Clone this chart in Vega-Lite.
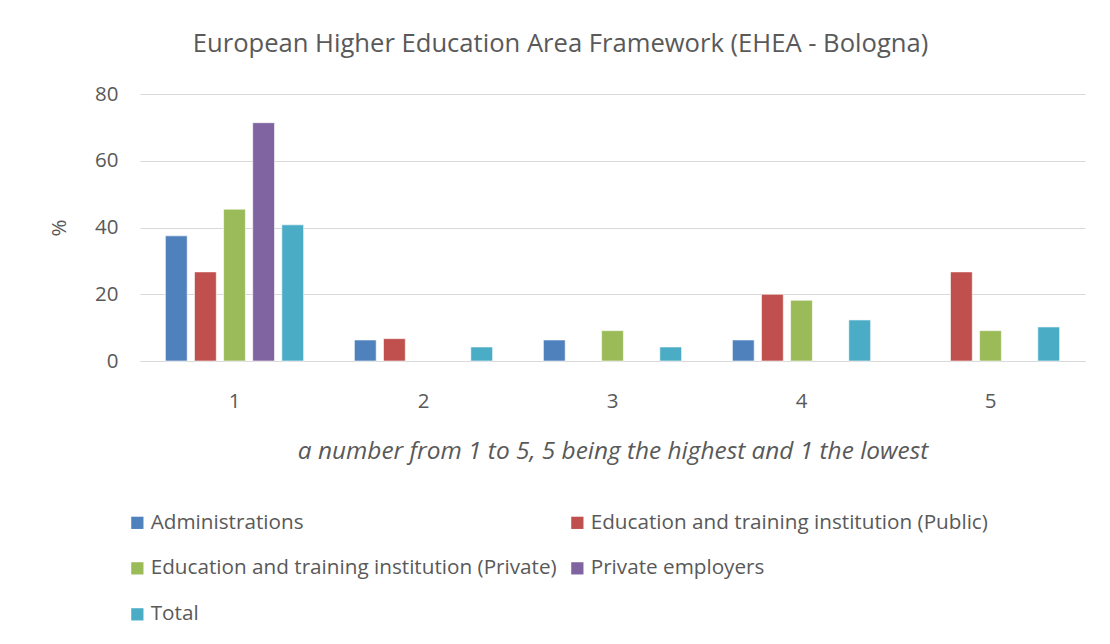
{
  "$schema": "https://vega.github.io/schema/vega-lite/v6.json",
  "autosize": "none",
  "width": 945,
  "height": 267,
  "padding": {"left": 140, "top": 94, "right": 25, "bottom": 283},
  "background": "white",
  "title": {
    "text": "European Higher Education Area Framework (EHEA - Bologna)",
    "font": "Open Sans",
    "fontSize": 25.6,
    "fontWeight": "normal",
    "color": "#595959",
    "anchor": "middle",
    "dx": -52,
    "offset": 26
  },
  "data": {
    "values": [
      {"rating": "1", "group": "Administrations", "pct": 37.5},
      {"rating": "1", "group": "Education and training institution (Public)", "pct": 26.7},
      {"rating": "1", "group": "Education and training institution (Private)", "pct": 45.5},
      {"rating": "1", "group": "Private employers", "pct": 71.4},
      {"rating": "1", "group": "Total", "pct": 40.8},
      {"rating": "2", "group": "Administrations", "pct": 6.3},
      {"rating": "2", "group": "Education and training institution (Public)", "pct": 6.7},
      {"rating": "2", "group": "Total", "pct": 4.2},
      {"rating": "3", "group": "Administrations", "pct": 6.3},
      {"rating": "3", "group": "Education and training institution (Private)", "pct": 9.1},
      {"rating": "3", "group": "Total", "pct": 4.2},
      {"rating": "4", "group": "Administrations", "pct": 6.3},
      {"rating": "4", "group": "Education and training institution (Public)", "pct": 20.0},
      {"rating": "4", "group": "Education and training institution (Private)", "pct": 18.2},
      {"rating": "4", "group": "Total", "pct": 12.3},
      {"rating": "5", "group": "Education and training institution (Public)", "pct": 26.7},
      {"rating": "5", "group": "Education and training institution (Private)", "pct": 9.1},
      {"rating": "5", "group": "Total", "pct": 10.2}
    ]
  },
  "mark": {"type": "bar", "stroke": "white", "strokeWidth": 1, "strokeOpacity": 0.6},
  "encoding": {
    "x": {
      "field": "rating",
      "type": "nominal",
      "scale": {"domain": ["1", "2", "3", "4", "5"], "paddingInner": 0.23, "paddingOuter": 0.115},
      "axis": {
        "title": "a number from 1 to 5, 5 being the highest and 1 the lowest",
        "titleFontStyle": "italic",
        "titleFontWeight": "normal",
        "titleFont": "Open Sans",
        "titleFontSize": 24.4,
        "titleColor": "#595959",
        "titlePadding": 28,
        "labelAngle": 0,
        "labelFont": "Open Sans",
        "labelFontSize": 20.5,
        "labelColor": "#595959",
        "labelPadding": 30,
        "ticks": false,
        "domain": true,
        "domainColor": "#d9d9d9",
        "domainWidth": 1
      }
    },
    "xOffset": {
      "field": "group",
      "type": "nominal",
      "scale": {
        "domain": ["Administrations", "Education and training institution (Public)", "Education and training institution (Private)", "Private employers", "Total"],
        "paddingInner": 0.25,
        "paddingOuter": 0.125
      }
    },
    "y": {
      "field": "pct",
      "type": "quantitative",
      "scale": {"domain": [0, 80]},
      "axis": {
        "title": "%",
        "titleFont": "Open Sans",
        "titleFontSize": 20.5,
        "titleFontWeight": "normal",
        "titleColor": "#595959",
        "titlePadding": 25,
        "values": [0, 20, 40, 60, 80],
        "labelFont": "Open Sans",
        "labelFontSize": 20.5,
        "labelColor": "#595959",
        "labelPadding": 22,
        "ticks": false,
        "domain": false,
        "gridColor": "#d9d9d9",
        "gridWidth": 1
      }
    },
    "color": {
      "field": "group",
      "type": "nominal",
      "scale": {
        "domain": ["Administrations", "Education and training institution (Private)", "Total", "Education and training institution (Public)", "Private employers"],
        "range": ["#4F81BD", "#9BBB59", "#4BACC6", "#C0504D", "#8064A2"]
      },
      "legend": {
        "title": null,
        "orient": "none",
        "legendX": -13,
        "legendY": 418,
        "columns": 2,
        "columnPadding": 10,
        "rowPadding": 24,
        "symbolType": "square",
        "symbolSize": 150,
        "symbolStrokeWidth": 0,
        "labelFont": "Open Sans",
        "labelFontSize": 20.7,
        "labelColor": "#595959",
        "labelOffset": 3,
        "labelLimit": 600
      }
    }
  },
  "config": {
    "view": {"stroke": null}
  }
}
